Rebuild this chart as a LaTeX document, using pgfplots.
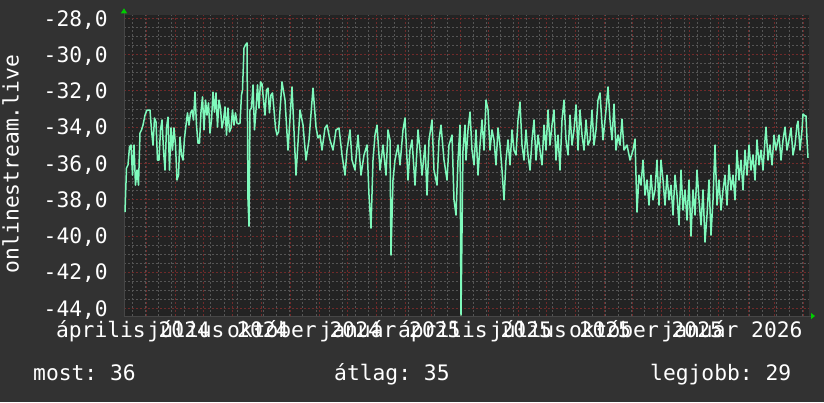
\documentclass[border=0pt]{standalone}
\usepackage{fontspec}
\setmainfont{DejaVu Sans Mono}
\usepackage{pgfplots}
\pgfplotsset{compat=1.18}
\usetikzlibrary{arrows.meta}
\definecolor{outerbg}{RGB}{50,50,50}
\definecolor{plotbg}{RGB}{35,35,35}
\definecolor{minorgrid}{RGB}{85,85,85}
\definecolor{majorgrid}{RGB}{112,42,42}
\definecolor{linecol}{RGB}{127,250,188}
\definecolor{arrowgreen}{RGB}{0,204,0}
\definecolor{axiscol}{RGB}{70,70,70}
\begin{document}
\frenchspacing
\fontsize{21.3pt}{25pt}\selectfont
\begin{tikzpicture}
\useasboundingbox (0,0) rectangle (824pt,402pt);
\fill[outerbg] (0,0) rectangle (824pt,402pt);
\begin{axis}[
  at={(124pt,86pt)}, anchor=south west,
  width=685pt, height=301pt, scale only axis,
  xmin=0, xmax=685, ymin=-44.42, ymax=-27.82,
  axis background/.style={fill=plotbg},
  axis lines*=left,
  x axis line style={draw=axiscol, line width=1pt, shorten >=-6pt, -{Triangle[color=arrowgreen, length=4pt, width=6pt]}},
  y axis line style={draw=axiscol, line width=1pt, shorten >=-6.7pt, -{Triangle[color=arrowgreen, length=5pt, width=6pt]}},
  xtick={22.3,51.4,79.5,108.6,137.7,165.9,195.0,223.1,252.2,281.3,307.6,336.7,364.8,393.9,422.1,451.2,480.3,508.4,537.5,565.7,594.8,623.9,650.1,679.2},
  xticklabels={},
  minor xtick={8,21.14,...,684},
  ytick={-44,-42,...,-28},
  yticklabels={{-44,0},{-42,0},{-40,0},{-38,0},{-36,0},{-34,0},{-32,0},{-30,0},{-28,0}},
  minor ytick={-44,-43.5,...,-28},
  grid=both,
  major grid style={majorgrid, line width=0.7pt, dash pattern=on 2pt off 2pt},
  minor grid style={minorgrid, line width=0.7pt, dash pattern=on 2pt off 2pt},
  tick style={draw=none},
  extra x ticks={9,94,180,266,351,436.5,522,608},
  extra x tick labels={április 2024,július 2024,október 2024,január 2025,április 2025,július 2025,október 2025,január 2026},
  extra x tick style={grid=none},
  yticklabel style={text=white, anchor=base east, inner sep=0pt, xshift=-16pt, yshift=-7.8pt},
  xticklabel style={text=white, anchor=base, inner sep=0pt, yshift=-21pt},
]
\addplot[linecol, line width=1.5pt, line join=round] coordinates {
(1,-38.69)(2.5,-36.26)(4,-36.09)(5.5,-35.10)(7,-34.99)(8.5,-36.65)(10,-34.99)(11.5,-37.20)(13,-36.37)(14.5,-37.20)
(16,-34.33)(17.5,-34.16)(19,-33.89)(21,-33.34)(23,-33.06)(26,-33.06)(27.5,-34.16)(29,-34.99)(30.5,-33.50)(32,-33.72)
(33.5,-35.82)(35,-35.82)(36.5,-34.16)(38,-33.61)(39.5,-35.27)(41,-36.37)(42.5,-34.05)(44,-33.45)(45.5,-36.37)(47,-34.05)
(48.5,-35.27)(50,-34.05)(51.5,-34.99)(53,-36.92)(54.5,-36.65)(56,-34.55)(57.5,-35.54)(59,-35.82)(60.5,-34.60)(62,-33.89)
(63.5,-33.22)(65,-33.89)(66.5,-33.22)(68,-33.06)(69.5,-33.61)(71,-32.07)(72.5,-33.89)(74,-34.88)(75.5,-34.88)(77,-33.17)
(78.5,-32.34)(80,-34.16)(81.5,-32.51)(83,-33.34)(84.5,-32.67)(86,-34.33)(87.5,-33.61)(89,-32.07)(90.5,-33.17)(92,-32.12)
(93.5,-34.00)(95,-32.51)(96.5,-32.95)(98,-34.05)(99.5,-33.61)(101,-32.89)(102.5,-34.44)(104,-32.95)(105.5,-34.27)(107,-34.05)
(108.5,-33.06)(110,-33.89)(111.5,-33.22)(113,-33.78)(114.5,-33.83)(116,-33.78)(117.5,-32.23)(118.5,-31.96)(120,-29.64)(121.5,-29.47)
(123,-29.36)(124,-38.02)(125,-39.46)(126,-33.06)(127.5,-32.95)(129,-31.68)(130.5,-34.16)(132,-33.06)(133.5,-31.68)(135,-32.95)
(136.5,-31.51)(138,-31.62)(139.5,-32.51)(141,-33.34)(142.5,-31.96)(144,-31.85)(145.5,-33.22)(147,-32.23)(148.5,-32.12)(150,-33.06)
(151.5,-34.05)(153,-34.44)(154.5,-34.27)(158,-31.51)(161,-32.51)(164,-35.27)(168,-31.79)(172,-36.65)(176,-33.06)(179,-33.89)
(182,-35.82)(185,-34.71)(189,-31.85)(192,-34.00)(194,-34.60)(196,-34.44)(198,-35.27)(201,-34.05)(203,-33.89)(206,-34.71)
(209,-35.27)(212,-34.16)(215,-34.05)(218,-35.54)(221,-36.65)(223,-35.27)(226,-34.16)(228,-35.82)(231,-36.37)(234,-34.44)
(237,-36.65)(240,-35.54)(243,-34.99)(245,-37.75)(247,-39.57)(249,-35.82)(251,-34.44)(253,-33.89)(256,-36.37)(259,-34.99)
(262,-36.65)(264,-34.16)(266,-34.71)(267,-41.06)(269,-36.92)(271,-35.82)(274,-34.99)(276,-36.09)(279,-34.16)(281,-33.50)
(284,-36.92)(286,-35.27)(288,-34.71)(291,-37.20)(294,-34.16)(296,-35.27)(298,-36.65)(301,-34.99)(303,-37.75)(305,-34.71)
(308,-33.61)(310,-36.37)(313,-37.20)(315,-34.71)(317,-33.89)(320,-35.82)(323,-36.92)(325,-34.99)(328,-34.44)(330,-38.02)
(332,-38.85)(334,-35.82)(336,-33.89)(337,-44.37)(339,-35.27)(341,-33.89)
(342,-35.82)(344,-34.16)(346,-33.17)(348,-35.27)(350,-36.09)(352,-34.16)(354,-36.65)(356,-34.99)(358,-33.61)(360,-35.27)
(362,-32.51)(364,-33.06)(366,-35.27)(368,-34.16)(370,-34.71)(372,-36.09)(374,-34.05)(376,-34.99)(378,-36.37)(380,-38.02)
(382,-35.82)(384,-34.71)(386,-36.09)(388,-34.16)(390,-35.27)(392,-35.54)(394,-33.61)(396,-32.62)(398,-34.99)(400,-35.82)
(402,-34.16)(404,-35.54)(406,-36.37)(408,-34.71)(410,-33.61)(412,-35.82)(414,-34.44)(416,-35.27)(418,-36.09)(420,-33.89)
(422,-35.27)(424,-33.06)(426,-34.99)(428,-33.89)(430,-33.06)(432,-35.82)(434,-34.44)(436,-36.37)(438,-33.61)(440,-32.51)
(442,-34.71)(444,-35.54)(446,-33.34)(448,-34.99)(450,-34.16)(452,-32.78)(454,-35.27)(456,-33.06)(458,-34.44)(460,-35.27)
(462,-33.61)(464,-34.99)(466,-34.71)(468,-33.06)(470,-34.99)(472,-34.16)(474,-32.51)(476,-32.12)(479,-34.71)(482,-33.06)
(484,-31.79)(486,-33.61)(488,-34.71)(490,-32.73)(492,-35.27)(494,-34.44)(496,-34.99)(498,-33.56)(500,-35.27)(503,-34.99)
(506,-35.82)(509,-35.27)(511,-34.66)(513,-38.69)(515,-36.65)
(517,-37.20)(519,-35.82)(521,-37.75)(523,-36.92)(525,-38.30)(527,-36.65)(529,-38.02)(531,-37.47)(533,-35.82)(535,-38.30)
(537,-35.82)(539,-36.92)(541,-38.30)(543,-36.65)(545,-38.02)(547,-37.20)(549,-38.85)(551,-36.65)(553,-37.75)(555,-39.40)
(557,-36.37)(559,-38.58)(561,-37.47)(563,-39.13)(565,-36.92)(567,-40.01)(569,-37.47)(571,-38.85)(573,-36.37)(575,-38.02)
(577,-39.40)(579,-37.47)(581,-40.34)(583,-38.85)(585,-36.92)(587,-39.96)(589,-38.02)(591,-34.99)(593,-38.30)(595,-36.92)
(597,-38.58)(599,-37.47)(601,-36.65)(603,-38.30)(605,-36.09)(607,-37.47)(609,-36.65)(611,-38.02)(613,-35.27)(615,-36.92)
(617,-35.82)(619,-37.47)(621,-35.27)(623,-36.65)(625,-34.99)(627,-36.37)(629,-35.54)(631,-36.92)(633,-34.71)(635,-36.09)
(637,-35.27)(639,-36.37)(641,-34.71)(642,-34.00)(644,-35.82)(646,-34.99)(648,-36.09)(650,-34.44)(652,-35.27)(654,-34.71)
(655,-34.44)(657,-35.82)(659,-34.71)(661,-34.00)(663,-35.27)(665,-34.71)(667,-34.05)(669,-35.54)(671,-34.99)(673,-33.89)
(674,-33.67)(676,-35.27)(678,-34.16)(679,-33.28)(681,-33.39)(682,-33.39)(683,-34.71)(684,-35.70)
};
\end{axis}
\node[anchor=base west, text=white, inner sep=0pt] at (33pt,22pt) {most: 36};
\node[anchor=base west, text=white, inner sep=0pt] at (334pt,22pt) {átlag: 35};
\node[anchor=base west, text=white, inner sep=0pt] at (650pt,22pt) {legjobb: 29};
\node[rotate=90, anchor=base, text=white, inner sep=0pt] at (18.5pt,238pt) {onlinestream.live};
\end{tikzpicture}
\end{document}
